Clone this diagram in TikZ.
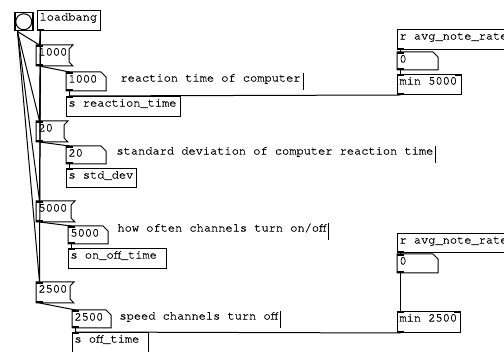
\documentclass[tikz,border=0pt]{standalone}
\usepackage{fontspec}
\newfontfamily\pdfont[FakeBold=0.8]{TeX Gyre Cursor}
\tikzset{
         pdbox/.style={anchor=north west, inner xsep=2pt, inner ysep=0pt, text height=10pt, font=\pdfont\fontsize{12}{12}\selectfont, align=left, execute at begin node={\spaceskip=7.2pt\relax}},
         obj/.style={pdbox, draw, text depth=10pt},
         msg/.style={pdbox, text depth=10pt},
         num/.style={pdbox, text depth=8pt},
         cmt/.style={anchor=north west, inner sep=0pt, text height=8pt, text depth=8pt, font=\pdfont\fontsize{12}{12}\selectfont},
         wire/.style={line width=1pt}
        }
\newcommand{\pdin}[1]{\fill (#1.north west) rectangle ++(7,2);}
\newcommand{\pdrin}[1]{\fill (#1.north east) rectangle ++(-7,2);}
\newcommand{\pdout}[1]{\fill (#1.south west) rectangle ++(7,-2);}
\newcommand{\msgshape}[1]{\draw (#1.north west) -- ([xshift=4pt]#1.north east) -- ([yshift=-4pt]#1.north east) -- ([yshift=4pt]#1.south east) -- ([xshift=4pt]#1.south east) -- (#1.south west) -- cycle;}
\newcommand{\numshape}[1]{\draw (#1.north west) -- ([xshift=-5pt]#1.north east) -- ([yshift=-5pt]#1.north east) -- (#1.south east) -- (#1.south west) -- cycle;}
\newcommand{\wire}[2]{\draw[wire] ([xshift=3.5pt]#1.south west) -- ([xshift=3.5pt]#2.north west);}
\newcommand{\cbar}[1]{\draw ([xshift=2pt]#1.north east) -- ([xshift=2pt]#1.south east);}

\begin{document}
\begin{tikzpicture}[x=1pt,y=-1pt,line width=1pt]
      \clip (0,0) rectangle (504,352);
      \fill[white] (0,0) rectangle (504,352); % canvas
      % bang and loadbang
      \node[draw,line width=1.5pt,minimum size=18pt,inner sep=0pt,anchor=north west] (bng) at (14,12) {};
      \node[draw,circle,minimum size=16pt,inner sep=0pt] (bngc) at (bng.center) {};
      \node[obj,text width=59pt] (lb) at (37,10) {loadbang}; \pdout{lb}
      % reaction time
      \node[msg,text width=28pt] (m1) at (36,45) {1000}; \msgshape{m1} \pdin{m1} \pdout{m1}
      \node[num,text width=35pt] (n1) at (66,72) {1000}; \numshape{n1} \pdin{n1} \pdout{n1}
      \node[cmt] (c1) at (120,73) {reaction time of computer}; \cbar{c1}
      \node[obj,text width=110pt] (s1) at (66,96) {s reaction\_time}; \pdin{s1}
      \node[obj,text width=112pt] (r1) at (397,29) {r avg\_note\_rate}; \pdout{r1}
      \node[num,text width=36pt,text depth=7pt] (na) at (397,52) {0}; \numshape{na} \pdin{na} \pdout{na}
      \node[obj,text width=60pt] (mn1) at (397,74) {min 5000}; \pdin{mn1} \pdrin{mn1} \pdout{mn1}
      % standard deviation
      \node[msg,text width=23pt] (m2) at (36,121) {20}; \msgshape{m2} \pdin{m2} \pdout{m2}
      \node[num,text width=35pt,text depth=7pt] (n2) at (66,146) {20}; \numshape{n2} \pdin{n2} \pdout{n2}
      \node[cmt] (c2) at (116,146) {standard deviation of computer reaction time}; \cbar{c2}
      \node[obj,text width=66pt,text depth=9pt] (s2) at (66,168) {s std\_dev}; \pdin{s2}
      % on/off time
      \node[msg,text width=30pt] (m3) at (36,201) {5000}; \msgshape{m3} \pdin{m3} \pdout{m3}
      \node[num,text width=35pt,text depth=7pt] (n3) at (68,226) {5000}; \numshape{n3} \pdin{n3} \pdout{n3}
      \node[cmt] (c3) at (117,223) {how often channels turn on/off}; \cbar{c3}
      \node[obj,text width=94pt] (s3) at (68,248) {s on\_off\_time}; \pdin{s3}
      % off time
      \node[msg,text width=29pt] (m4) at (36,282) {2500}; \msgshape{m4} \pdin{m4} \pdout{m4}
      \node[num,text width=34pt,text depth=7pt] (n4) at (72,310) {2500}; \numshape{n4} \pdin{n4} \pdout{n4}
      \node[cmt] (c4) at (119,311) {speed channels turn off}; \cbar{c4}
      \node[obj,text width=72pt] (s4) at (72,332) {s off\_time}; \pdin{s4}
      \node[obj,text width=112pt,text depth=9pt] (r2) at (397,233) {r avg\_note\_rate}; \pdout{r2}
      \node[num,text width=36pt] (nb) at (397,254) {0}; \numshape{nb} \pdin{nb} \pdout{nb}
      \node[obj,text width=59pt,text depth=11pt] (mn2) at (397,311) {min 2500}; \pdin{mn2} \pdrin{mn2} \pdout{mn2}
      % wiring
      \foreach \m in {m1,m2,m3,m4} {\wire{bng}{\m} \wire{lb}{\m}}
      \wire{m1}{n1} \wire{n1}{s1}
      \wire{m2}{n2} \wire{n2}{s2}
      \wire{m3}{n3} \wire{n3}{s3}
      \wire{m4}{n4} \wire{n4}{s4}
      \wire{r1}{na} \wire{na}{mn1} \wire{mn1}{s1}
      \wire{r2}{nb} \wire{nb}{mn2} \wire{mn2}{s4}
   \end{tikzpicture}
\end{document}
